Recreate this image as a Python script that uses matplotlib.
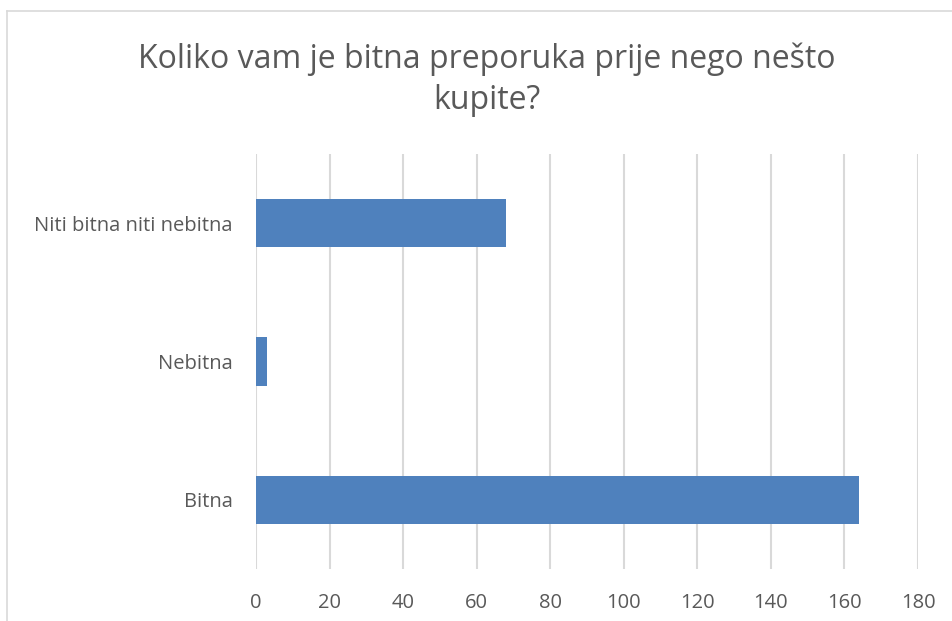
import matplotlib
matplotlib.use("Agg")
import matplotlib.pyplot as plt
from matplotlib.lines import Line2D

categories = ["Bitna", "Nebitna", "Niti bitna niti nebitna"]
values = [164, 3, 68]
xticks = [0, 20, 40, 60, 80, 100, 120, 140, 160, 180]
title = "Koliko vam je bitna preporuka prije nego nešto\nkupite?"

plt.rcParams['font.family'] = ['Open Sans', 'DejaVu Sans']
fig = plt.figure(figsize=(9.53, 6.21), dpi=100)
ax = fig.add_axes([256/953, 1-569/621, (918-256)/953, (569-154)/621])

ax.barh(range(len(categories)), values, height=0.35, color="#4f81bd", zorder=3)
ax.set_yticks(range(len(categories)))
ax.set_yticklabels(categories)
ax.set_ylim(-0.5, len(categories)-0.5)
ax.set_xlim(0, 180)
ax.set_xticks(xticks)
ax.xaxis.grid(True, color="#d9d9d9", linewidth=1.5, zorder=0)
for s in ax.spines.values():
    s.set_visible(False)
ax.tick_params(axis='both', length=0, labelsize=14.5, colors="#595959")
ax.tick_params(axis='x', pad=17)
ax.tick_params(axis='y', pad=17)

fig.text(487/953, 1-80/621, title, ha='center', va='center', fontsize=23,
         color="#595959", linespacing=1.3)

fig.add_artist(Line2D([7.5/953, 7.5/953], [0, 1-10.5/621], transform=fig.transFigure, color="#d9d9d9", lw=1.2))
fig.add_artist(Line2D([7.5/953, 1], [1-10.5/621, 1-10.5/621], transform=fig.transFigure, color="#d9d9d9", lw=1.2))

fig.savefig("out.png", dpi=100)
